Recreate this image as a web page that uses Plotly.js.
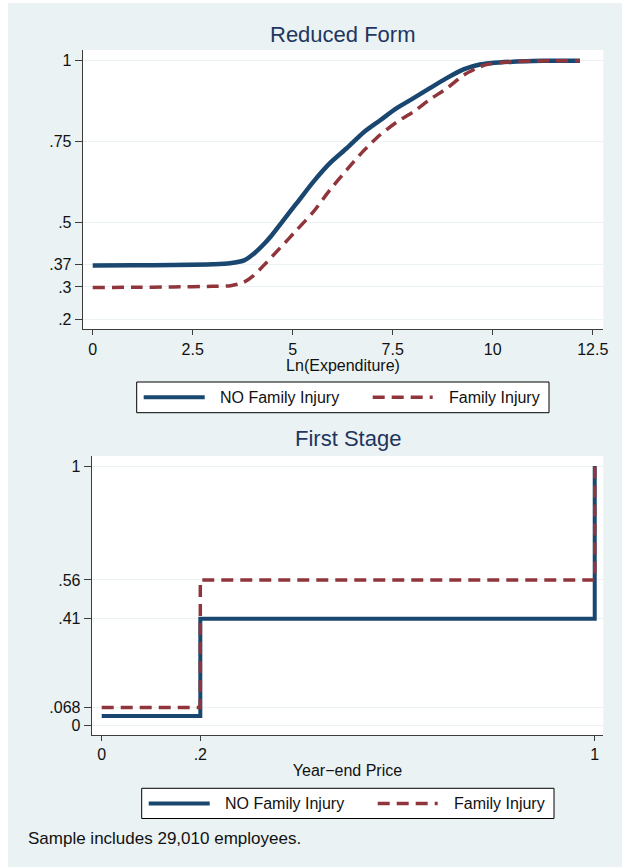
<!DOCTYPE html>
<html><head><meta charset="utf-8">
<script src="https://cdn.plot.ly/plotly-3.0.1.min.js"></script>
<style>
html,body{margin:0;padding:0;background:#ffffff;width:622px;height:867px;overflow:hidden}
#chart{position:absolute;left:8px;top:3px;width:614px;height:864px}
</style></head>
<body><div id="chart"></div>
<script>
// ---- Data ----
const seriesNames = ["NO Family Injury", "Family Injury"];

// Reduced form: x = Ln(Expenditure)
const expNoInjuryX = [0, 1, 2, 3, 3.43, 3.8, 4.05, 4.3, 4.45, 4.77, 5.1, 5.52, 5.93, 6.35, 6.77, 7.18, 7.6, 8.02, 8.43, 8.85, 9.27, 9.68, 9.93, 10.5, 11, 11.5, 12.18];
const reducedNoInjury = [0.366, 0.367, 0.368, 0.370, 0.373, 0.383, 0.405, 0.435, 0.456, 0.507, 0.559, 0.626, 0.683, 0.729, 0.778, 0.815, 0.853, 0.884, 0.915, 0.946, 0.973, 0.988, 0.992, 0.997, 0.999, 1.0, 1.0];

const expInjuryX = [0, 1, 2, 3, 3.45, 3.77, 4.02, 4.27, 4.68, 5.1, 5.52, 5.93, 6.35, 6.77, 7.18, 7.6, 8.02, 8.43, 8.85, 9.27, 9.68, 9.93, 10.5, 11, 12.18];
const reducedInjury = [0.298, 0.299, 0.300, 0.302, 0.304, 0.314, 0.335, 0.366, 0.420, 0.476, 0.533, 0.600, 0.662, 0.721, 0.770, 0.810, 0.842, 0.880, 0.914, 0.955, 0.981, 0.990, 0.997, 0.999, 1.0];

// First stage: x = Year-end Price (step function)
const priceX = [0, 0.2, 1];
const firstNoInjury = [0.035, 0.41, 1];
const firstInjury = [0.068, 0.56, 1];

// Tick values / labels
const topXTicks = [0, 2.5, 5, 7.5, 10, 12.5];
const topXLabels = ["0", "2.5", "5", "7.5", "10", "12.5"];
const topYTicks = [0.2, 0.3, 0.37, 0.5, 0.75, 1];
const topYLabels = [".2", ".3", ".37", ".5", ".75", "1"];
const botXTicks = [0, 0.2, 1];
const botXLabels = ["0", ".2", "1"];
const botYTicks = [0, 0.068, 0.41, 0.56, 1];
const botYLabels = ["0", ".068", ".41", ".56", "1"];

const titles = ["Reduced Form", "First Stage"];
const axisTitles = ["Ln(Expenditure)", "Year\u2212end Price"];
const note = "Sample includes 29,010 employees.";

// ---- Styling / layout ----
const BLUE = "#1a476f", RED = "#90353b", BG = "#eaf2f3", AX = "#3c3c3c";
const FONT = "Liberation Sans, Arial, Helvetica, sans-serif";
const W = 614, H = 864, OX = 8, OY = 3;
const px = x => (x - OX) / W;
const py = y => 1 - (y - OY) / H;
const DASH = "12px,7px";

const traces = [
  {x: expNoInjuryX, y: reducedNoInjury, xaxis: "x", yaxis: "y", mode: "lines",
   line: {color: BLUE, width: 4.5, shape: "spline", smoothing: 0.7}, name: seriesNames[0], showlegend: false, hoverinfo: "skip"},
  {x: expInjuryX, y: reducedInjury, xaxis: "x", yaxis: "y", mode: "lines",
   line: {color: RED, width: 3.5, dash: DASH, shape: "spline", smoothing: 0.7}, name: seriesNames[1], showlegend: false, hoverinfo: "skip"},
  {x: priceX, y: firstNoInjury, xaxis: "x2", yaxis: "y2", mode: "lines",
   line: {color: BLUE, width: 4, shape: "hv"}, name: seriesNames[0], showlegend: false, hoverinfo: "skip"},
  {x: priceX, y: firstInjury, xaxis: "x2", yaxis: "y2", mode: "lines",
   line: {color: RED, width: 3.5, dash: DASH, shape: "hv"}, name: seriesNames[1], showlegend: false, hoverinfo: "skip"}
];

const tickFont = {family: FONT, size: 16, color: "#111"};
function xAxis(domain, range, vals, text, title, standoff) {
  return {domain, range, tickvals: vals, ticktext: text, ticks: "outside", ticklen: 5,
    tickcolor: AX, tickwidth: 1, showline: true, linecolor: AX, linewidth: 1,
    showgrid: false, zeroline: false, tickfont: tickFont, fixedrange: true,
    title: {text: title, font: {family: FONT, size: 16, color: "#111"}, standoff}};
}
function yAxis(domain, range, vals, text, anchor) {
  return {domain, range, tickvals: vals, ticktext: text, ticks: "outside", ticklen: 7,
    tickcolor: AX, tickwidth: 1, showline: true, linecolor: AX, linewidth: 1,
    showgrid: true, gridcolor: BG, gridwidth: 1, zeroline: false, tickfont: tickFont,
    anchor, fixedrange: true};
}

const annotations = [
  {text: titles[0], x: px(343), y: py(34), xanchor: "center", yanchor: "middle"},
  {text: titles[1], x: px(347.5), y: py(438), xanchor: "center", yanchor: "middle"}
].map(a => Object.assign(a, {xref: "paper", yref: "paper", showarrow: false,
  font: {family: FONT, size: 22, color: "#1f3660"}}));

function legend(left, right, top, bottom) {
  const cy = (top + bottom) / 2;
  const shapes = [
    {type: "rect", xref: "paper", yref: "paper", x0: px(left), x1: px(right), y0: py(bottom), y1: py(top),
     line: {color: "#000", width: 1}, fillcolor: "#fff"},
    {type: "line", xref: "paper", yref: "paper", x0: px(left + 7), x1: px(left + 68), y0: py(cy), y1: py(cy),
     line: {color: BLUE, width: 4}},
    {type: "line", xref: "paper", yref: "paper", x0: px(left + 236), x1: px(left + 296), y0: py(cy), y1: py(cy),
     line: {color: RED, width: 3.5, dash: DASH}}
  ];
  const anns = [
    {text: seriesNames[0], x: px(left + 81), y: py(cy)},
    {text: seriesNames[1], x: px(left + 310), y: py(cy)}
  ].map(a => Object.assign(a, {xref: "paper", yref: "paper", xanchor: "left", yanchor: "middle",
    showarrow: false, font: {family: FONT, size: 16, color: "#111"}}));
  return {shapes, anns};
}
const lg1 = legend(136.7, 549, 382, 412.7);
const lg2 = legend(141.7, 554, 788.3, 818.5);

annotations.push(...lg1.anns, ...lg2.anns);
annotations.push({text: note, xref: "paper", yref: "paper", x: px(26), y: py(838),
  xanchor: "left", yanchor: "middle", showarrow: false, font: {family: FONT, size: 17, color: "#111"}});

const layout = {
  width: W, height: H,
  margin: {l: 0, r: 0, t: 0, b: 0, pad: 0},
  paper_bgcolor: BG, plot_bgcolor: "#ffffff",
  showlegend: false,
  font: {family: FONT, color: "#111"},
  xaxis: xAxis([px(82.7), px(603.3)], [-0.25, 12.765], topXTicks, topXLabels, axisTitles[0], 0),
  yaxis: yAxis([py(329.3), py(50)], [0.169, 1.033], topYTicks, topYLabels, "x"),
  xaxis2: Object.assign(xAxis([px(91.7), px(603.3)], [-0.0203, 1.0174], botXTicks, botXLabels, axisTitles[1], 2), {anchor: "y2"}),
  yaxis2: yAxis([py(735), py(456)], [-0.0386, 1.0386], botYTicks, botYLabels, "x2"),
  shapes: [...lg1.shapes, ...lg2.shapes],
  annotations
};

Plotly.newPlot("chart", traces, layout, {staticPlot: true, displayModeBar: false});
</script>
</body></html>
